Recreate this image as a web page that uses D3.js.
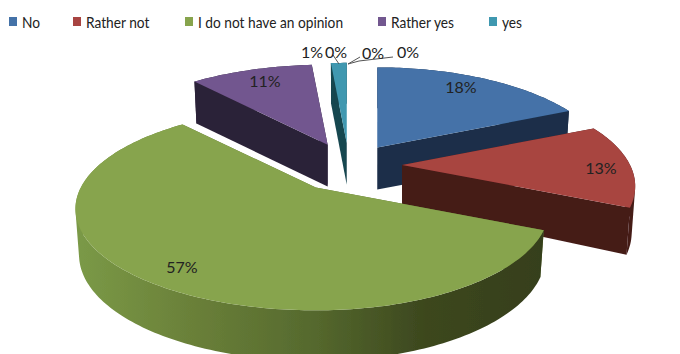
<!DOCTYPE html>
<html>
<head>
<meta charset="utf-8">
<script src="https://cdn.jsdelivr.net/npm/d3@7"></script>
<style>
html,body{margin:0;padding:0;background:#fff}
svg{display:block}
text{font-family:Lato,"Open Sans",sans-serif;fill:#222}
</style>
</head>
<body>
<svg id="c" width="680" height="354"></svg>
<script>
// Data
const categories = ["No","Rather not","I do not have an opinion","Rather yes","yes","","",""];
const shares = [18.3,13.3,57.0,10.1,1.3,0,0,0];   // slice sizes as they appear in the picture
const valueLabels = ["18%","13%","57%","11%","1%","0%","0%","0%"];
const legendNames = ["No","Rather not","I do not have an opinion","Rather yes","yes"];
const topColors = ["#4472a8","#a84441","#87a44d","#72578f","#3f98b0"];
const sideColors = ["#1c2f49","#451b18","#5f7232","#2c2139","#17464f"];

// Layout
const W=680,H=354;
const cx=349,cy=165,RxRight=228,RxLeft=235,Ry=97,persp=0.21,depthBase=45,bottomShrink=0.985;
const explode=[52,53,56,55,55,0,0,0];
const tilt=[0.4,0.4,0.5,0.4,0.4,0,0,0];
const legendX=[9,73,185,378,489];
const labelPos=[[461,86],[601,167],[182,266],[265,80],[312,51],[336,51],[373,52],[408,51]];

const svg=d3.select("#c");
const defs=svg.append("defs");
const grad=defs.append("linearGradient").attr("id","greenSide")
  .attr("gradientUnits","userSpaceOnUse").attr("x1",75).attr("x2",543).attr("y1",0).attr("y2",0);
[[0,"#7b9a47"],[0.25,"#6a8039"],[0.5,"#566a2e"],[0.75,"#3c471e"],[1,"#363f1c"]]
  .forEach(d=>grad.append("stop").attr("offset",d[0]).attr("stop-color",d[1]));
const soft=defs.append("filter").attr("id","soft");
soft.append("feGaussianBlur").attr("stdDeviation",0.45);

const color=d3.scaleOrdinal().domain(categories.slice(0,5)).range(topColors);
const side=d3.scaleOrdinal().domain(categories.slice(0,5)).range(sideColors);

const pie=d3.pie().sort(null).value(d=>d)
  .startAngle(0).endAngle(2*Math.PI);
const arcs=pie(shares);
const line=d3.line();

function apexOf(i,a){
  const mid=(a.startAngle+a.endAngle)/2;
  return [cx+explode[i]*Math.sin(mid), cy-explode[i]*tilt[i]*Math.cos(mid)];
}
function rimPoint(apex,t){
  const X=Math.sin(t),Y=-Math.cos(t),s=1/(1-persp*Y);
  const Rx=X<0?RxLeft:RxRight;
  return {top:[apex[0]+Rx*X*s, apex[1]+Ry*Y*s],
          d:depthBase*Math.sqrt(s)};
}
function low(apex,p){
  return [apex[0]+(p.top[0]-apex[0])*bottomShrink, p.top[1]+p.d];
}
// every quad gets the same winding, so their union fills without holes or seams
function quad(pts){
  return line(d3.polygonArea(pts)<0?pts.slice().reverse():pts)+"Z";
}

const g=svg.append("g").attr("filter","url(#soft)");
const order=[3,4,0,1,2];
order.forEach(i=>{
  const a=arcs[i],name=categories[i],apex=apexOf(i,a);
  const n=Math.max(4,Math.ceil((a.endAngle-a.startAngle)/0.02));
  const ts=d3.range(n+1).map(k=>a.startAngle+(a.endAngle-a.startAngle)*k/n);
  const rim=ts.map(t=>rimPoint(apex,t));
  const apexLow=[apex[0],apex[1]+depthBase*0.93];
  const fillSide=i===2?"url(#greenSide)":side(name);
  const sg=g.append("g").attr("class","slice");
  sg.append("path").attr("d",line([apex,rim[0].top,low(apex,rim[0]),apexLow])+"Z").attr("fill",side(name));
  sg.append("path").attr("d",line([apex,rim[n].top,low(apex,rim[n]),apexLow])+"Z").attr("fill",side(name));
  sg.append("path")
    .attr("d",d3.pairs(rim).map(([p,q])=>quad([p.top,q.top,low(apex,q),low(apex,p)])).join(""))
    .attr("fill",fillSide);
  sg.append("path").attr("d",line([apex].concat(rim.map(p=>p.top)))+"Z").attr("fill",color(name));
});

// Leader lines
const leaders=[[[333,55],[339,64]],[[393,57],[359,61],[348,64]],[[360,57],[348,64]]];
svg.append("g").selectAll("path").data(leaders).join("path")
  .attr("d",d=>line(d)).attr("fill","none").attr("stroke","#555").attr("stroke-width",1);

// Value labels
svg.append("g").selectAll("text").data(valueLabels).join("text")
  .attr("x",(d,i)=>labelPos[i][0]).attr("y",(d,i)=>labelPos[i][1])
  .attr("text-anchor","middle").attr("dominant-baseline","central")
  .attr("font-size",16).text(d=>d);

// Legend
const lg=svg.append("g").selectAll("g").data(legendNames).join("g")
  .attr("transform",(d,i)=>`translate(${legendX[i]},0)`);
lg.append("rect").attr("x",0).attr("y",17).attr("width",8).attr("height",9)
  .attr("fill",(d,i)=>topColors[i]);
lg.append("text").attr("transform","translate(13,22) scale(0.885,1)")
  .attr("dominant-baseline","central")
  .attr("font-size",15.5).text(d=>d);
</script>
</body>
</html>
